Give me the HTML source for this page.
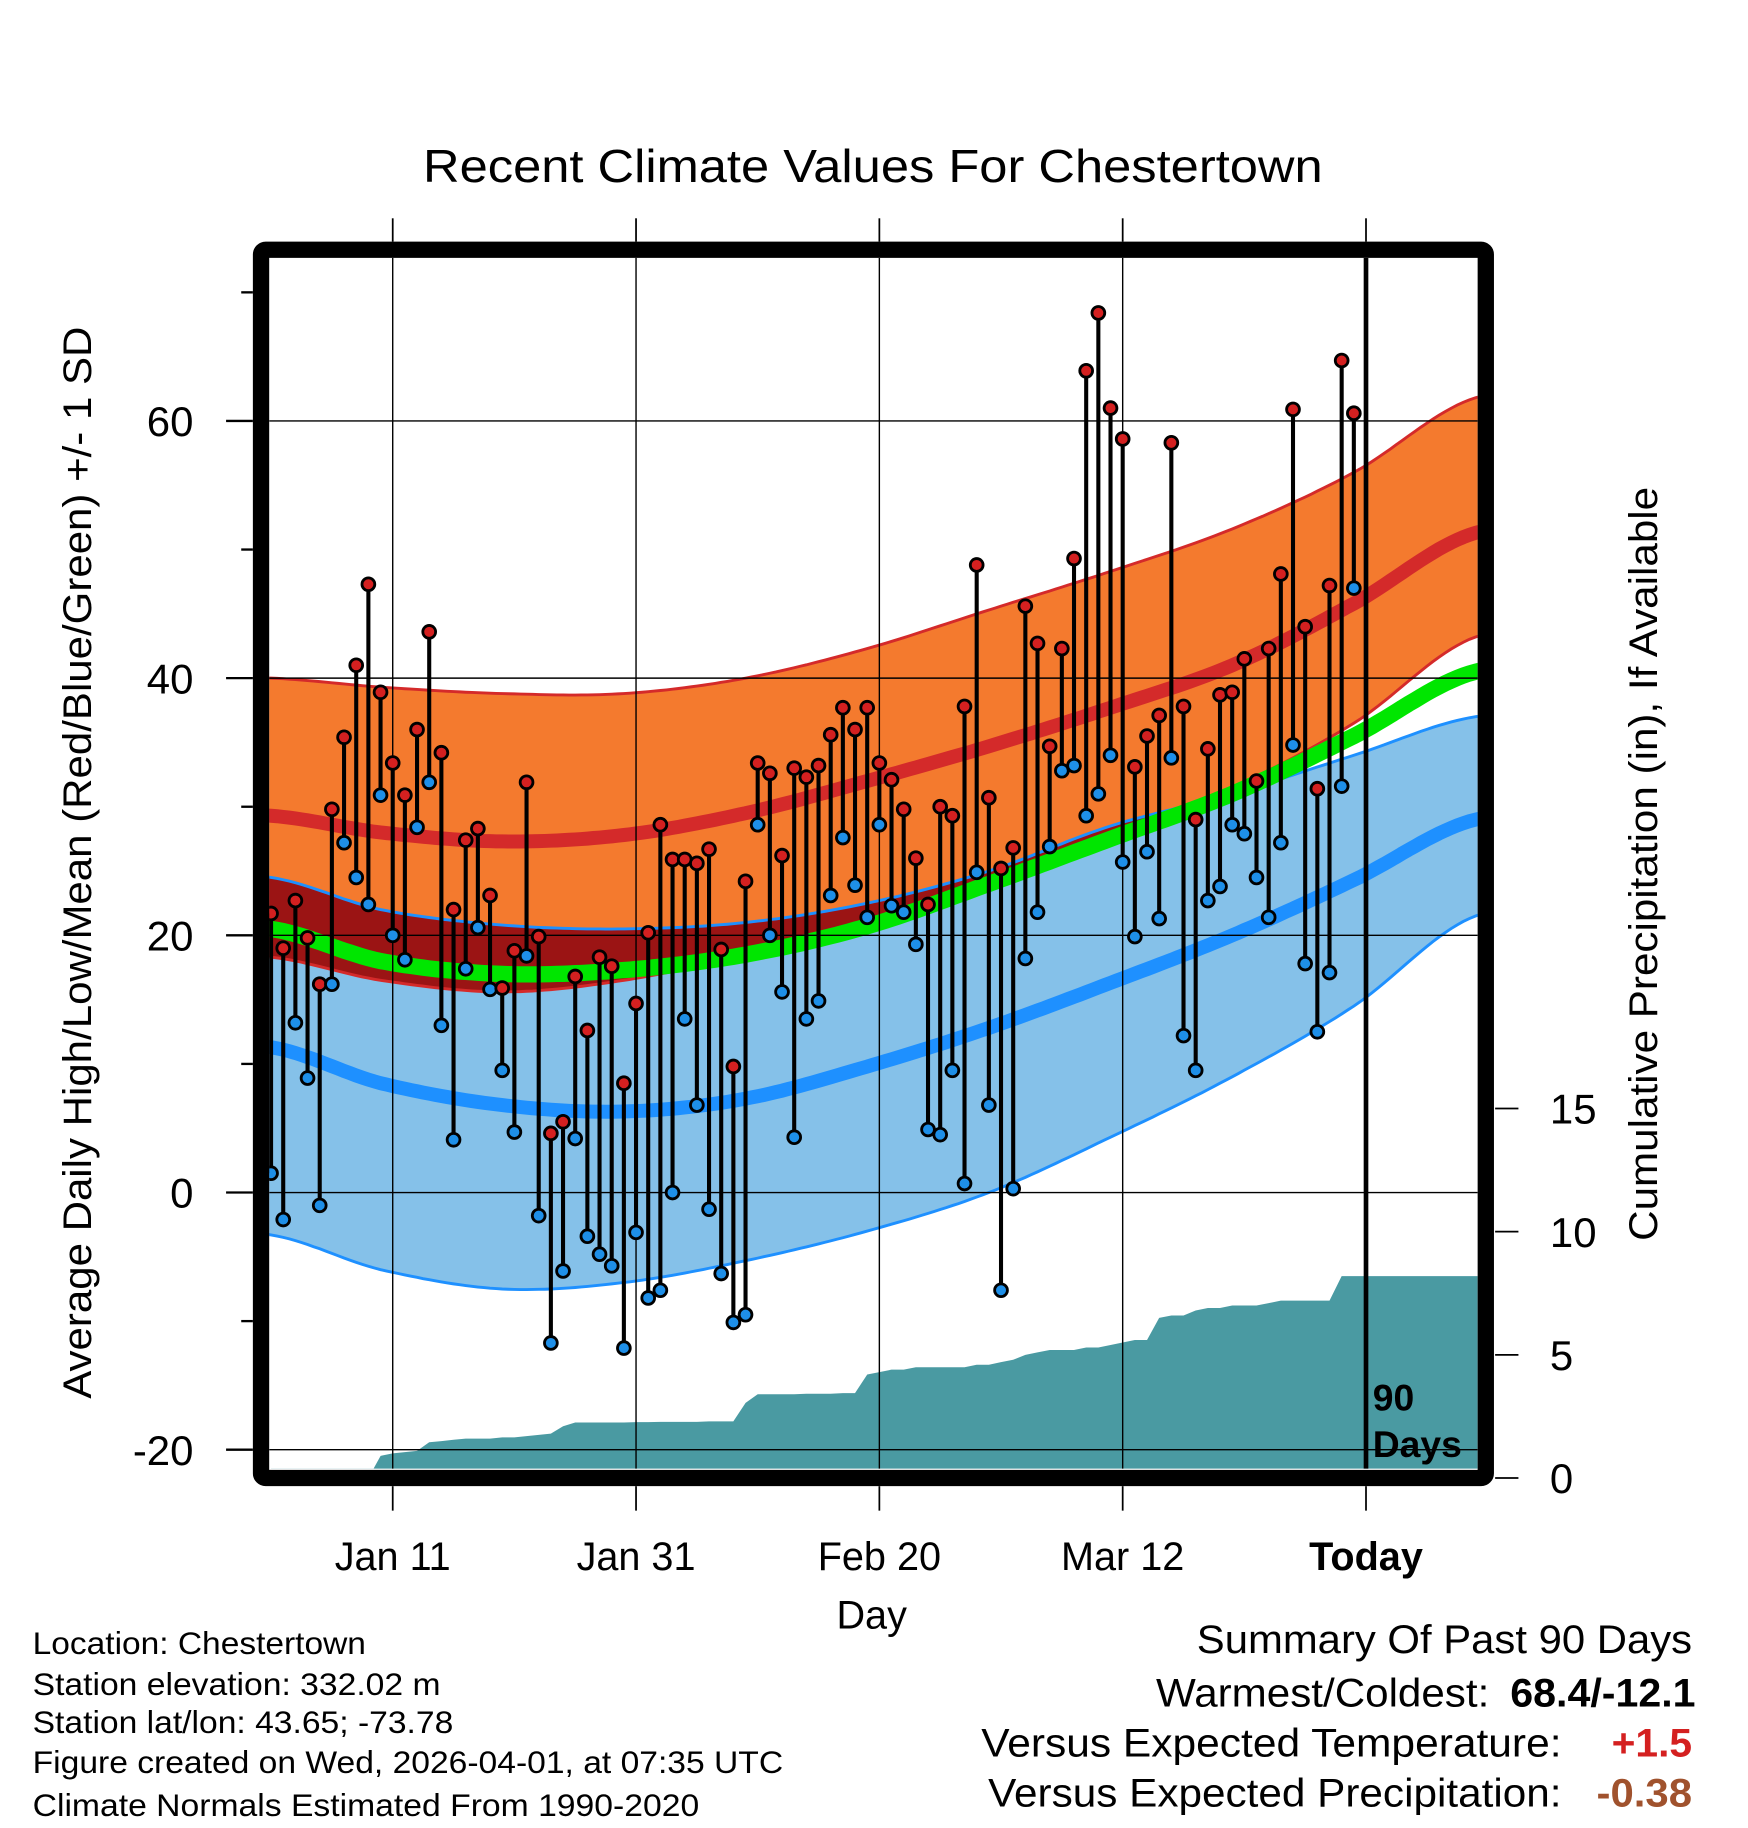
<!DOCTYPE html>
<html><head><meta charset="utf-8"><style>
html,body{margin:0;padding:0;background:#fff}
svg{display:block}
text{font-family:"Liberation Sans",sans-serif;fill:#000}
</style></head><body>
<svg id="chart" width="1748" height="1828" viewBox="0 0 1500 1568" xmlns="http://www.w3.org/2000/svg">
<text x="749" y="156" font-size="40" text-anchor="middle" textLength="772" lengthAdjust="spacingAndGlyphs">Recent Climate Values For Chestertown</text>
<g id="plot"></g>
<text transform="translate(78,740) rotate(-90)" font-size="34" text-anchor="middle" textLength="920" lengthAdjust="spacingAndGlyphs">Average Daily High/Low/Mean (Red/Blue/Green) +/- 1 SD</text>
<text transform="translate(1422,741) rotate(-90)" font-size="34" text-anchor="middle" textLength="647" lengthAdjust="spacingAndGlyphs">Cumulative Precipitation (in), If Available</text>
<text x="748" y="1397" font-size="34" text-anchor="middle">Day</text>
<g font-size="27">
<text x="28" y="1419" textLength="286" lengthAdjust="spacingAndGlyphs">Location: Chestertown</text>
<text x="28" y="1454" textLength="350" lengthAdjust="spacingAndGlyphs">Station elevation: 332.02 m</text>
<text x="28" y="1487" textLength="361" lengthAdjust="spacingAndGlyphs">Station lat/lon: 43.65; -73.78</text>
<text x="28" y="1521" textLength="644" lengthAdjust="spacingAndGlyphs">Figure created on Wed, 2026-04-01, at 07:35 UTC</text>
<text x="28" y="1558" textLength="572" lengthAdjust="spacingAndGlyphs">Climate Normals Estimated From 1990-2020</text>
</g>
<g font-size="34">
<text x="1027" y="1418" textLength="425" lengthAdjust="spacingAndGlyphs">Summary Of Past 90 Days</text>
<text x="992" y="1464" textLength="286" lengthAdjust="spacingAndGlyphs">Warmest/Coldest:</text>
<text x="1296" y="1464" font-weight="bold" textLength="159" lengthAdjust="spacingAndGlyphs">68.4/-12.1</text>
<text x="842" y="1507" textLength="498" lengthAdjust="spacingAndGlyphs">Versus Expected Temperature:</text>
<text x="1383" y="1507" font-weight="bold" style="fill:#d42020" textLength="69" lengthAdjust="spacingAndGlyphs">+1.5</text>
<text x="848" y="1550" textLength="492" lengthAdjust="spacingAndGlyphs">Versus Expected Precipitation:</text>
<text x="1370" y="1550" font-weight="bold" style="fill:#a0522d" textLength="82" lengthAdjust="spacingAndGlyphs">-0.38</text>
</g>
</svg>
<script>
const highs=[21.7,19,22.7,19.8,16.2,29.8,35.4,41,47.3,38.9,33.4,30.9,36,43.6,34.2,22,27.4,28.3,23.1,15.9,18.8,31.9,19.9,4.6,5.5,16.8,12.6,18.3,17.6,8.5,14.7,20.2,28.6,25.9,25.9,25.6,26.7,18.9,9.8,24.2,33.4,32.6,26.2,33,32.3,33.2,35.6,37.7,36,37.7,33.4,32.1,29.8,26,22.4,30,29.3,37.8,48.8,30.7,25.2,26.8,45.6,42.7,34.7,42.3,49.3,63.9,68.4,61,58.6,33.1,35.5,37.1,58.3,37.8,29,34.5,38.7,38.9,41.5,32,42.3,48.1,60.9,44,31.4,47.2,64.7,60.6];
const lows=[1.5,-2.1,13.2,8.9,-1,16.2,27.2,24.5,22.4,30.9,20,18.1,28.4,31.9,13,4.1,17.4,20.6,15.8,9.5,4.7,18.4,-1.8,-11.7,-6.1,4.2,-3.4,-4.8,-5.7,-12.1,-3.1,-8.2,-7.6,0,13.5,6.8,-1.3,-6.3,-10.1,-9.5,28.6,20,15.6,4.3,13.5,14.9,23.1,27.6,23.9,21.4,28.6,22.3,21.8,19.3,4.9,4.5,9.5,0.7,24.9,6.8,-7.6,0.3,18.2,21.8,26.9,32.8,33.2,29.3,31,34,25.7,19.9,26.5,21.3,33.8,12.2,9.5,22.7,23.8,28.6,27.9,24.5,21.4,27.2,34.8,17.8,12.5,17.1,31.6,47];
const precip=[0,0,0,0,0,0,0,0,0,0.9,1.0,1.05,1.1,1.45,1.5,1.55,1.6,1.6,1.6,1.65,1.65,1.7,1.75,1.8,2.1,2.25,2.25,2.25,2.25,2.25,2.27,2.27,2.28,2.28,2.28,2.28,2.3,2.3,2.3,3.05,3.4,3.4,3.4,3.4,3.42,3.42,3.42,3.45,3.45,4.2,4.3,4.4,4.4,4.5,4.5,4.5,4.5,4.5,4.6,4.6,4.7,4.8,5.0,5.1,5.2,5.2,5.2,5.3,5.3,5.4,5.5,5.6,5.6,6.5,6.6,6.6,6.8,6.9,6.9,7.0,7.0,7.0,7.1,7.2,7.2,7.2,7.2,7.2,8.2,8.2];
const normDays=[1,10,20,30,40,50,60,70,80,90,100];
const redUpper=[40,39.3,38.8,38.8,40,42.3,45.3,48.3,51.6,56,61.8];
const redMean=[29.3,28,27.3,27.8,29.5,32,34.7,37.7,41,45.8,51.3];
const redLower=[18.3,16.5,15.6,16.5,18.5,21.2,24.5,28,31.5,36.5,43.2];
const blueUpper=[24.5,22,20.8,20.5,21,22.5,25,28.5,31,34,37];
const blueMean=[11.3,8.5,6.8,6.3,7.3,9.8,12.8,16.3,20,24.3,29];
const blueLower=[-3.3,-6,-7.5,-7,-5.3,-3,0,4.3,9,14.5,21.5];
const greenMean=[20.5,18,17,17.3,18.5,20.7,24,27.5,31,35.5,40.5];
const xTickDays=[11,31,51,71,91];
const xTickLabels=["Jan 11","Jan 31","Feb 20","Mar 12","Today"];
const yTicks=[60,40,20,0,-20];
const yMinor=[70,50,30,10,-10];
const pTicks=[0,5,10,15];

const L=231,R=1268,T=221,B=1260;
const xs=d=>337+(d-11)*10.44;
const ys=v=>1023-v*11.035;
const yp=p=>1268-p*21.14;
const NS='http://www.w3.org/2000/svg';
const g=document.getElementById('plot');
function mk(tag,attrs,parent){const e=document.createElementNS(NS,tag);for(const k in attrs)e.setAttribute(k,attrs[k]);(parent||g).appendChild(e);return e;}
function interp(arr,d){
  let i=0;while(i<normDays.length-2&&d>normDays[i+1])i++;
  const x0=normDays[i],x1=normDays[i+1],t=(d-x0)/(x1-x0);
  const p0=arr[Math.max(i-1,0)],p1=arr[i],p2=arr[i+1],p3=arr[Math.min(i+2,arr.length-1)];
  const m1=(p2-p0)/2,m2=(p3-p1)/2;
  const t2=t*t,t3=t2*t;
  return (2*t3-3*t2+1)*p1+(t3-2*t2+t)*m1+(-2*t3+3*t2)*p2+(t3-t2)*m2;
}
const dd=[];for(let d=0.5;d<=101.5;d+=0.5)dd.push(d);
function linePts(arr){return dd.map(d=>xs(d).toFixed(1)+','+ys(interp(arr,d)).toFixed(1));}
function band(up,lo){return linePts(up).concat(linePts(lo).reverse()).join(' ');}

const clip=mk('clipPath',{id:'pc'});mk('rect',{x:L,y:T,width:R-L,height:B-T},clip);
const pg=mk('g',{'clip-path':'url(#pc)'});

let e;
e=mk('polygon',{points:band(blueUpper,blueLower),fill:'#85c1e9'},pg);

e=mk('polygon',{points:band(redUpper,redLower),fill:'#f47a2e'},pg);

const ovTop=dd.map(d=>xs(d).toFixed(1)+','+ys(Math.max(interp(blueUpper,d),interp(redLower,d))).toFixed(1));
const ovBot=dd.map(d=>xs(d).toFixed(1)+','+ys(interp(redLower,d)).toFixed(1)).reverse();
e=mk('polygon',{points:ovTop.concat(ovBot).join(' '),fill:'#9b1414'},pg);

[[redUpper,'#d42a2a',2.5,'high-upper-line'],[redLower,'#d42a2a',2.5,'high-lower-line'],[blueUpper,'#1e90ff',2.5,'low-upper-line'],[blueLower,'#1e90ff',2.5,'low-lower-line'],[greenMean,'#00e600',14,'mean-line'],[redMean,'#d42a2a',12,'high-mean-line'],[blueMean,'#1e90ff',12,'low-mean-line']].forEach(a=>{
  const l=mk('polyline',{points:linePts(a[0]).join(' '),fill:'none',stroke:a[1],'stroke-width':a[2]},pg);
  
  
});
const pp=[xs(1)+','+B];
precip.forEach((p,i)=>pp.push(xs(i+1).toFixed(1)+','+yp(p).toFixed(1)));
pp.push(R+','+yp(precip[precip.length-1]).toFixed(1));pp.push(R+','+B);
e=mk('polygon',{points:pp.join(' '),fill:'#4a9aa2'},pg);

xTickDays.slice(0,4).forEach(d=>{const l=mk('line',{x1:xs(d),x2:xs(d),y1:T,y2:B,stroke:'#000','stroke-width':1.2},pg);});
yTicks.forEach(v=>{const l=mk('line',{x1:L,x2:R,y1:ys(v),y2:ys(v),stroke:'#000','stroke-width':1.2},pg);});
highs.forEach((h,i)=>{
  const x=xs(i+1);
  const s=mk('line',{x1:x,x2:x,y1:ys(h),y2:ys(lows[i]),stroke:'#000','stroke-width':3.5},pg);
  
  
});
highs.forEach((h,i)=>{
  const x=xs(i+1);
  const c1=mk('circle',{cx:x,cy:ys(h),r:5.5,fill:'#d42020',stroke:'#000','stroke-width':2.4},pg);
  
  
  const c2=mk('circle',{cx:x,cy:ys(lows[i]),r:5.5,fill:'#1e8fe8',stroke:'#000','stroke-width':2.4},pg);
  
  
});
e=mk('line',{x1:xs(91),x2:xs(91),y1:T,y2:B,stroke:'#000','stroke-width':4},pg);

const t1=mk('text',{x:1178,y:1210,'font-size':32,'font-weight':'bold'},pg);t1.textContent='90';

const t2=mk('text',{x:1178,y:1250,'font-size':32,'font-weight':'bold'},pg);t2.textContent='Days';

e=mk('rect',{x:224,y:214,width:1051,height:1054,fill:'none',stroke:'#000','stroke-width':14,rx:4});

xTickDays.forEach((d,i)=>{
  const x=xs(d);
  const a=mk('line',{x1:x,x2:x,y1:187,y2:207,stroke:'#000','stroke-width':1.5});
  const b=mk('line',{x1:x,x2:x,y1:1275,y2:1296,stroke:'#000','stroke-width':1.5});
  const t=mk('text',{x:x,y:1347,'font-size':34,'text-anchor':'middle','font-weight':i==4?'bold':'normal'});t.textContent=xTickLabels[i];
  
});
yTicks.forEach(v=>{
  const a=mk('line',{x1:194,x2:217,y1:ys(v),y2:ys(v),stroke:'#000','stroke-width':2});
  const t=mk('text',{x:166,y:ys(v)+13,'font-size':36,'text-anchor':'end'});t.textContent=String(v);
  
});
yMinor.forEach(v=>{const a=mk('line',{x1:207,x2:217,y1:ys(v),y2:ys(v),stroke:'#000','stroke-width':2});});
pTicks.forEach(p=>{
  const a=mk('line',{x1:1283,x2:1303,y1:yp(p),y2:yp(p),stroke:'#000','stroke-width':1.5});
  const t=mk('text',{x:1330,y:yp(p)+13,'font-size':36});t.textContent=String(p);
  
});
</script>
</body></html>
